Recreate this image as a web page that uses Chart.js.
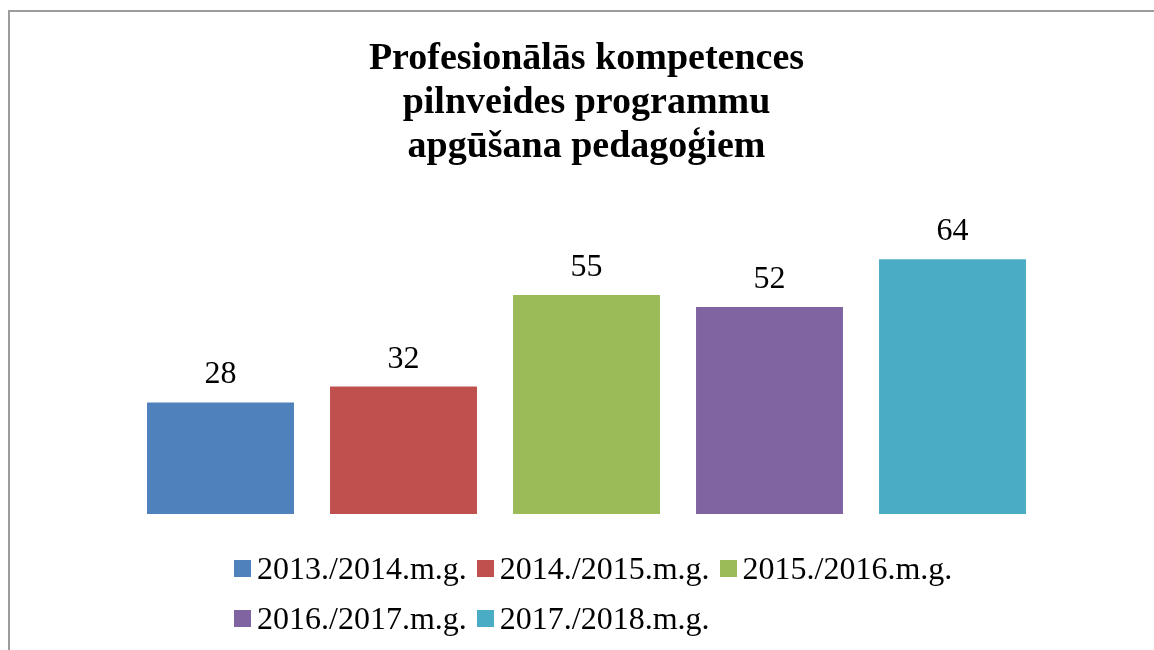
<!DOCTYPE html>
<html>
<head>
<meta charset="utf-8">
<script src="https://cdn.jsdelivr.net/npm/chart.js@4/dist/chart.umd.min.js"></script>
<style>
    body { margin: 0; background: #fff; }
    #wrap { position: relative; width: 1154px; height: 650px; }
    #frame {
        position: absolute; left: 8px; top: 10px; right: 0; bottom: 0;
        border-top: 2px solid #9c9c9c; border-left: 2px solid #9c9c9c;
    }
    #myChart { position: absolute; left: 0; top: 0; }
    #legend {
        position: absolute; left: 234px; top: 543px; width: 780px;
        display: flex; flex-wrap: wrap;
        font-family: "Liberation Serif", "Times New Roman", serif; font-size: 32px;
        line-height: 50px; color: #000;
    }
    .item { display: flex; align-items: center; margin-right: 10px; white-space: nowrap; }
    .box { width: 17px; height: 17px; margin-right: 6px; }
</style>
</head>
<body>
<div id="wrap">
    <div id="frame"></div>
    <canvas id="myChart" width="1154" height="650"></canvas>
    <div id="legend"></div>
</div>
<script>
const titleLines = ['Profesionālās kompetences', 'pilnveides programmu', 'apgūšana pedagoģiem'];
const seriesNames = ['2013./2014.m.g.', '2014./2015.m.g.', '2015./2016.m.g.', '2016./2017.m.g.', '2017./2018.m.g.'];
const seriesValues = [28, 32, 55, 52, 64];
const seriesColors = ['#4F81BD', '#C0504D', '#9BBB59', '#8064A2', '#4BACC6'];
const categories = [''];

const serif = "'Liberation Serif', 'Times New Roman', serif";

// value labels above each bar
const valueLabels = {
    id: 'valueLabels',
    afterDatasetsDraw(chart) {
        const ctx = chart.ctx;
        ctx.save();
        ctx.font = '32px ' + serif;
        ctx.fillStyle = '#000';
        ctx.textAlign = 'center';
        ctx.textBaseline = 'alphabetic';
        chart.data.datasets.forEach((ds, i) => {
            const bar = chart.getDatasetMeta(i).data[0];
            ctx.fillText(String(ds.data[0]), bar.x, bar.y - 19);
        });
        ctx.restore();
    }
};

// legend drawn as html so rows can start at the same left edge
const htmlLegend = {
    id: 'htmlLegend',
    afterUpdate(chart) {
        const el = document.getElementById('legend');
        el.innerHTML = '';
        chart.data.datasets.forEach(ds => {
            const item = document.createElement('div');
            item.className = 'item';
            const box = document.createElement('span');
            box.className = 'box';
            box.style.background = ds.backgroundColor;
            const txt = document.createElement('span');
            txt.textContent = ds.label;
            item.appendChild(box);
            item.appendChild(txt);
            el.appendChild(item);
        });
    }
};

const chart = new Chart(document.getElementById('myChart'), {
    type: 'bar',
    data: {
        labels: categories,
        datasets: seriesNames.map((name, i) => ({
            label: name,
            data: [seriesValues[i]],
            backgroundColor: seriesColors[i],
            borderWidth: 0,
            categoryPercentage: 1,
            barPercentage: 0.803
        }))
    },
    options: {
        responsive: false,
        animation: false,
        layout: {
            padding: { left: 129, right: 110, top: 10, bottom: 136 }
        },
        scales: {
            x: { display: false },
            y: { display: false, min: 0, max: 70 }
        },
        plugins: {
            legend: { display: false },
            tooltip: { enabled: false },
            title: {
                display: true,
                text: titleLines,
                color: '#000',
                font: { family: serif, size: 38, weight: 'bold', lineHeight: 1.16 },
                padding: { top: 27, bottom: 66 }
            }
        }
    },
    plugins: [valueLabels, htmlLegend]
});
</script>
</body>
</html>
